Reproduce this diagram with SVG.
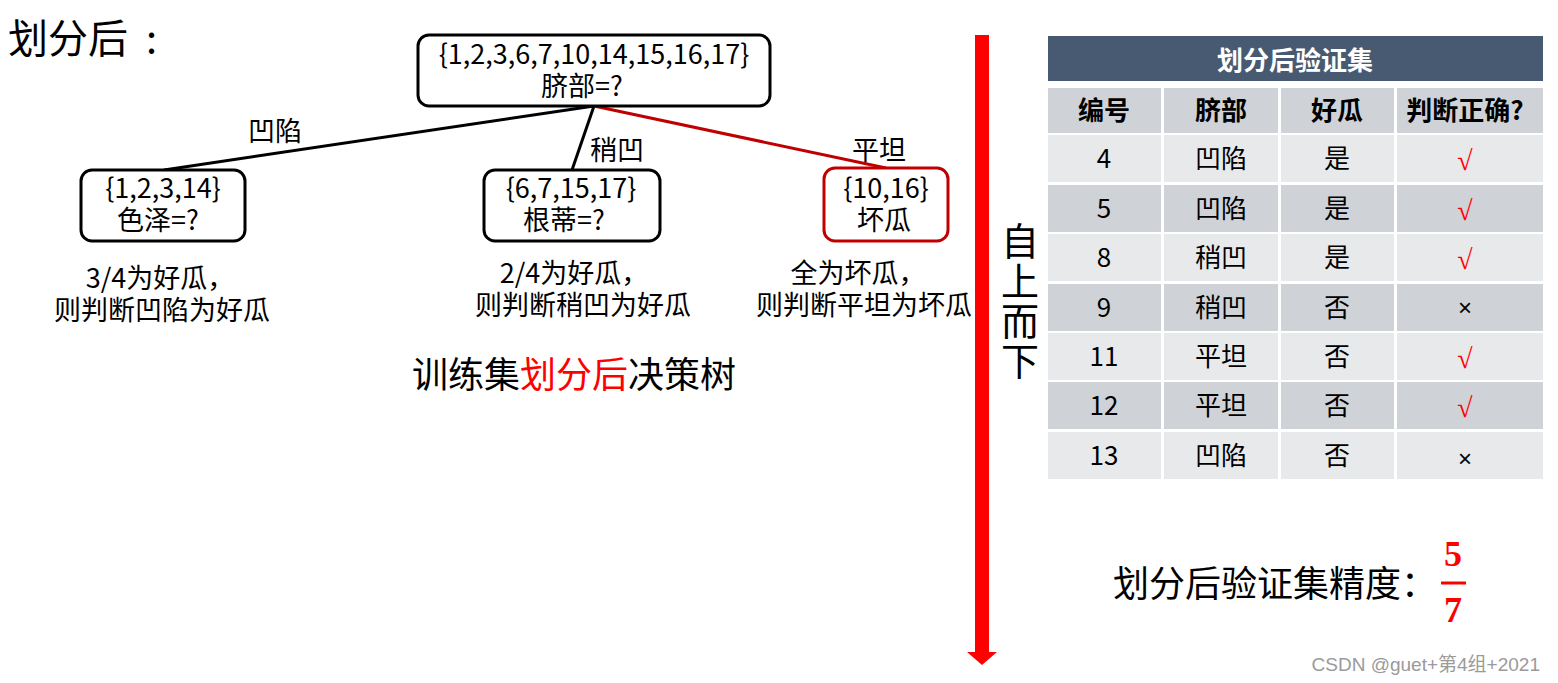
<svg xmlns="http://www.w3.org/2000/svg" width="1558" height="683" viewBox="0 0 1558 683">
<style>
text{font-family:"Noto Sans CJK SC","Open Sans",sans-serif;fill:#000}
.box{fill:#fff;stroke:#000;stroke-width:3}
.rbox{fill:#fff;stroke:#c00000;stroke-width:3}
.n{font-size:27px;text-anchor:middle}
.hd{font-size:26px;font-weight:bold;text-anchor:middle}
.td{font-size:26px;text-anchor:middle}
.ok{font-family:"Liberation Serif",serif;font-size:28px;fill:#f00;text-anchor:middle}
.x{font-family:"Liberation Sans",sans-serif;font-size:24px;text-anchor:middle}
.dk{fill:#cfd2d7}
.lt{fill:#e8e9eb}
</style>
<rect width="1558" height="683" fill="#fff"/>
<text x="8" y="53" font-size="40">划分后<tspan dx="18">:</tspan></text>

<g id="connectors">
<line x1="594" y1="106" x2="164" y2="170" stroke="#000" stroke-width="3"/>
<line x1="594" y1="106" x2="572" y2="170" stroke="#000" stroke-width="3"/>
<line x1="594" y1="106" x2="886" y2="168" stroke="#c00000" stroke-width="3"/>
<text x="275" y="141" class="n">凹陷</text>
<text x="617" y="160" class="n">稍凹</text>
<text x="879" y="160" class="n">平坦</text>
</g>

<g id="root">
<rect x="418" y="35" width="352" height="71" rx="11" class="box"/>
<text class="n"><tspan x="594" y="64">{1,2,3,6,7,10,14,15,16,17}</tspan><tspan x="582" y="96">脐部=?</tspan></text>
</g>
<g id="node-left">
<rect x="81" y="170" width="164" height="71" rx="11" class="box"/>
<text class="n"><tspan x="163" y="198">{1,2,3,14}</tspan><tspan x="158" y="230">色泽=?</tspan></text>
</g>
<g id="node-mid">
<rect x="484" y="170" width="176" height="71" rx="11" class="box"/>
<text class="n"><tspan x="571" y="198">{6,7,15,17}</tspan><tspan x="564" y="230">根蒂=?</tspan></text>
</g>
<g id="node-right">
<rect x="824" y="168" width="124" height="73" rx="11" class="rbox"/>
<text class="n"><tspan x="886" y="198">{10,16}</tspan><tspan x="884" y="230">坏瓜</tspan></text>
</g>

<g id="notes">
<text class="n"><tspan x="160" y="288">3/4为好瓜，</tspan><tspan x="162" y="320">则判断凹陷为好瓜</tspan></text>
<text class="n"><tspan x="574" y="283">2/4为好瓜，</tspan><tspan x="583" y="315">则判断稍凹为好瓜</tspan></text>
<text class="n"><tspan x="858" y="283">全为坏瓜，</tspan><tspan x="864" y="315">则判断平坦为坏瓜</tspan></text>
<text x="574" y="388" font-size="36" text-anchor="middle">训练集<tspan fill="#f00">划分后</tspan>决策树</text>
</g>

<g id="arrow">
<rect x="975" y="35" width="14" height="618" fill="#f00"/>
<polygon points="967,652 997,652 982,665" fill="#f00"/>
<text x="1020" y="222" font-size="38" writing-mode="vertical-rl" letter-spacing="2" style="writing-mode:vertical-rl">自上而下</text>
</g>

<g id="table">
<rect x="1048" y="36" width="495" height="45" fill="#475a72"/>
<text x="1295" y="70" font-size="26" font-weight="bold" text-anchor="middle" style="fill:#fff">划分后验证集</text>
<g class="dk">
<rect x="1048" y="88" width="113" height="45"/><rect x="1164" y="88" width="114" height="45"/><rect x="1281" y="88" width="113" height="45"/><rect x="1397" y="88" width="146" height="45"/>
</g>
<text x="1104" y="120" class="hd">编号</text>
<text x="1221" y="120" class="hd">脐部</text>
<text x="1337" y="120" class="hd">好瓜</text>
<text x="1465" y="120" class="hd">判断正确?</text>

<g class="lt"><rect x="1048" y="135" width="113" height="47"/><rect x="1164" y="135" width="114" height="47"/><rect x="1281" y="135" width="113" height="47"/><rect x="1397" y="135" width="146" height="47"/></g>
<g class="dk"><rect x="1048" y="185" width="113" height="47"/><rect x="1164" y="185" width="114" height="47"/><rect x="1281" y="185" width="113" height="47"/><rect x="1397" y="185" width="146" height="47"/></g>
<g class="lt"><rect x="1048" y="234" width="113" height="47"/><rect x="1164" y="234" width="114" height="47"/><rect x="1281" y="234" width="113" height="47"/><rect x="1397" y="234" width="146" height="47"/></g>
<g class="dk"><rect x="1048" y="284" width="113" height="47"/><rect x="1164" y="284" width="114" height="47"/><rect x="1281" y="284" width="113" height="47"/><rect x="1397" y="284" width="146" height="47"/></g>
<g class="lt"><rect x="1048" y="333" width="113" height="47"/><rect x="1164" y="333" width="114" height="47"/><rect x="1281" y="333" width="113" height="47"/><rect x="1397" y="333" width="146" height="47"/></g>
<g class="dk"><rect x="1048" y="382" width="113" height="47"/><rect x="1164" y="382" width="114" height="47"/><rect x="1281" y="382" width="113" height="47"/><rect x="1397" y="382" width="146" height="47"/></g>
<g class="lt"><rect x="1048" y="432" width="113" height="47"/><rect x="1164" y="432" width="114" height="47"/><rect x="1281" y="432" width="113" height="47"/><rect x="1397" y="432" width="146" height="47"/></g>

<text x="1104" y="168" class="td">4</text><text x="1221" y="168" class="td">凹陷</text><text x="1337" y="168" class="td">是</text><text x="1465" y="170" class="ok">√</text>
<text x="1104" y="218" class="td">5</text><text x="1221" y="218" class="td">凹陷</text><text x="1337" y="218" class="td">是</text><text x="1465" y="220" class="ok">√</text>
<text x="1104" y="267" class="td">8</text><text x="1221" y="267" class="td">稍凹</text><text x="1337" y="267" class="td">是</text><text x="1465" y="269" class="ok">√</text>
<text x="1104" y="317" class="td">9</text><text x="1221" y="317" class="td">稍凹</text><text x="1337" y="317" class="td">否</text><text x="1465" y="316" class="x">×</text>
<text x="1104" y="366" class="td">11</text><text x="1221" y="366" class="td">平坦</text><text x="1337" y="366" class="td">否</text><text x="1465" y="368" class="ok">√</text>
<text x="1104" y="415" class="td">12</text><text x="1221" y="415" class="td">平坦</text><text x="1337" y="415" class="td">否</text><text x="1465" y="417" class="ok">√</text>
<text x="1104" y="465" class="td">13</text><text x="1221" y="465" class="td">凹陷</text><text x="1337" y="465" class="td">否</text><text x="1465" y="467" class="x">×</text>
</g>

<g id="accuracy">
<text x="1113" y="597" font-size="36">划分后验证集精度：</text>
<text x="1453" y="566" font-size="36" font-weight="bold" text-anchor="middle" style="fill:#f00;font-family:'Liberation Serif',serif">5</text>
<line x1="1441" y1="583" x2="1466" y2="583" stroke="#f00" stroke-width="3"/>
<text x="1453" y="622" font-size="36" font-weight="bold" text-anchor="middle" style="fill:#f00;font-family:'Liberation Serif',serif">7</text>
</g>
<text x="1540" y="671" font-size="19" text-anchor="end" style="fill:#9a9a9a;font-family:'Liberation Sans','Noto Sans CJK SC',sans-serif">CSDN @guet+第4组+2021</text>
</svg>
